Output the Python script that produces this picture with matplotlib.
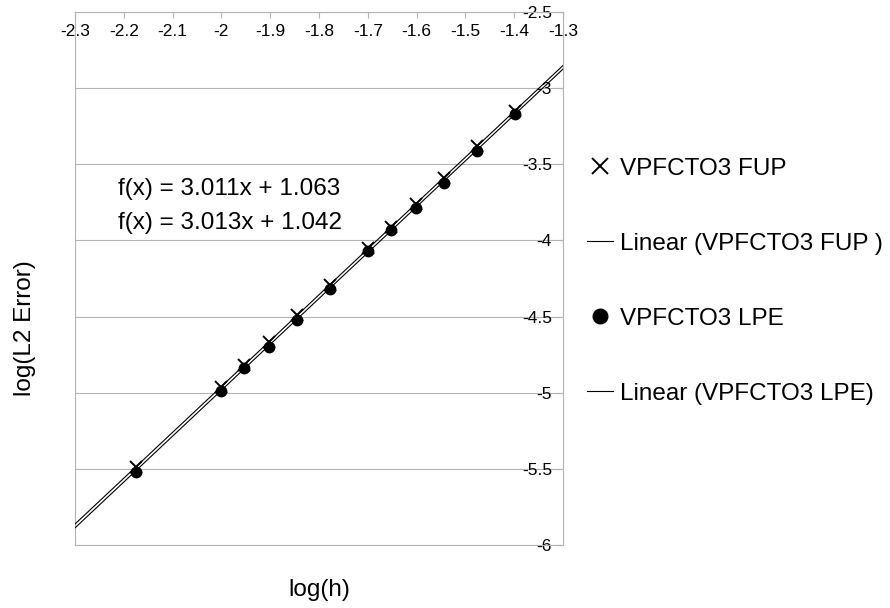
"""Convergence plot: L2 error vs mesh size for the VPFCTO3 FUP and LPE runs."""

import matplotlib

matplotlib.use("Agg")
import matplotlib.pyplot as plt
import numpy as np

FIG_SIZE = (8.9, 6.08)
DPI = 100
LABEL_FONT_SIZE = 17.5
TICK_FONT_SIZE = 12.5
GRID_COLOR = "#b3b3b3"
LINE_WIDTH = 0.8

plt.rcParams["font.family"] = ["Liberation Sans", "DejaVu Sans"]

# log10 of mesh size, shared by both runs
log_h = [-2.176, -2.0, -1.954, -1.903, -1.845, -1.778, -1.699, -1.653, -1.602, -1.544, -1.477, -1.398]
fup_error = [-5.49, -4.96, -4.82, -4.67, -4.49, -4.29, -4.05, -3.91, -3.76, -3.59, -3.38, -3.15]
lpe_error = [-5.52, -4.99, -4.84, -4.70, -4.52, -4.32, -4.07, -3.93, -3.79, -3.62, -3.41, -3.17]

# trendline coefficients as printed on the chart
fup_fit = [3.011, 1.063]
lpe_fit = [3.013, 1.042]

x_ticks = [-2.3, -2.2, -2.1, -2.0, -1.9, -1.8, -1.7, -1.6, -1.5, -1.4, -1.3]
x_tick_labels = ["-2.3", "-2.2", "-2.1", "-2", "-1.9", "-1.8", "-1.7", "-1.6", "-1.5", "-1.4", "-1.3"]
y_ticks = [-6.0, -5.5, -5.0, -4.5, -4.0, -3.5, -3.0, -2.5]
y_tick_labels = ["-6", "-5.5", "-5", "-4.5", "-4", "-3.5", "-3", "-2.5"]

fig = plt.figure(figsize=FIG_SIZE, dpi=DPI)
ax = fig.add_axes([75 / 890, 1 - 545 / 608, 488 / 890, 533 / 608])
ax.set_xlim(-2.3, -1.3)
ax.set_ylim(-6, -2.5)

fit_x = np.array(ax.get_xlim())
ax.plot(log_h, fup_error, linestyle="none", marker="x", markersize=8,
        markeredgewidth=1.4, color="black", label="VPFCTO3 FUP", zorder=4)
ax.plot(fit_x, np.polyval(fup_fit, fit_x), color="black", linewidth=LINE_WIDTH,
        label="Linear (VPFCTO3 FUP )", zorder=3)
ax.plot(log_h, lpe_error, linestyle="none", marker="o", markersize=7.5,
        color="black", label="VPFCTO3 LPE", zorder=5)
ax.plot(fit_x, np.polyval(lpe_fit, fit_x), color="black", linewidth=LINE_WIDTH,
        label="Linear (VPFCTO3 LPE)", zorder=3)

ax.text(118, 608 - 189, f"f(x) = {fup_fit[0]:.3f}x + {fup_fit[1]:.3f}",
        transform=None, fontsize=LABEL_FONT_SIZE, va="center", ha="left")
ax.text(118, 608 - 223, f"f(x) = {lpe_fit[0]:.3f}x + {lpe_fit[1]:.3f}",
        transform=None, fontsize=LABEL_FONT_SIZE, va="center", ha="left")

# x axis sits on top, labels hang inside the plot
ax.xaxis.set_ticks_position("top")
ax.set_xticks(x_ticks)
ax.set_xticklabels(x_tick_labels)
ax.tick_params(axis="x", direction="in", length=4, color=GRID_COLOR,
               labelsize=TICK_FONT_SIZE, pad=-9)
for label in ax.get_xticklabels():
    label.set_va("top")

# y axis sits on the right, labels right-aligned inside
ax.yaxis.set_ticks_position("right")
ax.set_yticks(y_ticks)
ax.set_yticklabels(y_tick_labels)
ax.tick_params(axis="y", direction="in", length=4, color=GRID_COLOR,
               labelsize=TICK_FONT_SIZE, pad=-8)
for label in ax.get_yticklabels():
    label.set_ha("right")

ax.grid(axis="y", color=GRID_COLOR, linewidth=LINE_WIDTH)
ax.set_axisbelow(True)
for spine in ax.spines.values():
    spine.set_color(GRID_COLOR)
    spine.set_linewidth(LINE_WIDTH)

ax.xaxis.set_label_position("bottom")
ax.set_xlabel("log(h)", fontsize=LABEL_FONT_SIZE, va="center")
ax.xaxis.set_label_coords(0.5, -(590 - 545) / 533)
ax.yaxis.set_label_position("left")
ax.set_ylabel("log(L2 Error)", fontsize=LABEL_FONT_SIZE, va="center")
ax.yaxis.set_label_coords(-(75 - 25) / 488, (545 - 328) / 533)

ax.legend(loc="center left", bbox_to_anchor=(587 / 890, 1 - 281 / 608),
          bbox_transform=fig.transFigure, frameon=False, fontsize=LABEL_FONT_SIZE,
          handlelength=1.07, handletextpad=0.3, labelspacing=2.18,
          borderpad=0, borderaxespad=0, markerscale=1.4)

fig.savefig("out.png", dpi=DPI)
